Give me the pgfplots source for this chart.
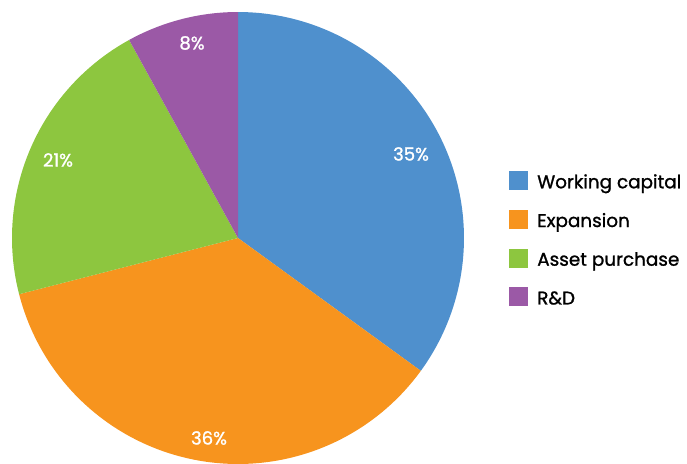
\documentclass[border=0pt]{standalone}
\usepackage{pgfplots}
\pgfplotsset{compat=1.18}
\usepackage{fontspec}
\setmainfont{Poppins}[FakeBold=1.2]
\definecolor{cA}{RGB}{79,144,205}
\definecolor{cB}{RGB}{247,148,30}
\definecolor{cC}{RGB}{141,198,63}
\definecolor{cD}{RGB}{155,89,166}
% shares in percent
\def\pA{35}\def\pB{36}\def\pC{21}\def\pD{8}
\pgfmathsetmacro\aA{90}
\pgfmathsetmacro\aB{\aA-3.6*\pA}
\pgfmathsetmacro\aC{\aB-3.6*\pB}
\pgfmathsetmacro\aD{\aC-3.6*\pC}
\pgfmathsetmacro\aE{\aD-3.6*\pD}
\begin{document}
\begin{tikzpicture}
\begin{axis}[
  hide axis, x=0.75pt, y=0.75pt,
  xmin=0, xmax=687, ymin=0, ymax=463,
  clip=false,
  legend cell align=left,
  legend style={at={(axis cs:509,292)}, anchor=north west, draw=none, fill=none,
    font=\fontsize{13.8}{16}\selectfont, row sep=14.8pt,
    inner sep=0pt, nodes={inner sep=0pt, text height=9.8pt, text depth=0pt},
    /tikz/every odd column/.append style={column sep=6.75pt}},
  legend image code/.code={\fill[#1, draw=none] (0pt,-6.4pt) rectangle (14.25pt,7.85pt);},
]
\path (axis cs:0,0) rectangle (axis cs:687,463);
\addplot[fill=cA, draw=none, domain=\aA:\aB, samples=120] ({238+226*cos(x)},{225+226*sin(x)}) -- (axis cs:238,225) -- cycle;
\addplot[fill=cB, draw=none, domain=\aB:\aC, samples=120] ({238+226*cos(x)},{225+226*sin(x)}) -- (axis cs:238,225) -- cycle;
\addplot[fill=cC, draw=none, domain=\aC:\aD, samples=80] ({238+226*cos(x)},{225+226*sin(x)}) -- (axis cs:238,225) -- cycle;
\addplot[fill=cD, draw=none, domain=\aD:\aE, samples=40] ({238+226*cos(x)},{225+226*sin(x)}) -- (axis cs:238,225) -- cycle;
\legend{Working capital, Expansion, Asset purchase, R\&D}
\begin{scope}[every node/.style={text=white, font=\fontsize{13.6}{16}\selectfont, inner sep=0pt}]
\node at (axis cs:411,309) {35\%};
\node at (axis cs:209,25) {36\%};
\node at (axis cs:58,303) {21\%};
\node at (axis cs:192,420) {8\%};
\end{scope}
\end{axis}
\end{tikzpicture}
\end{document}
